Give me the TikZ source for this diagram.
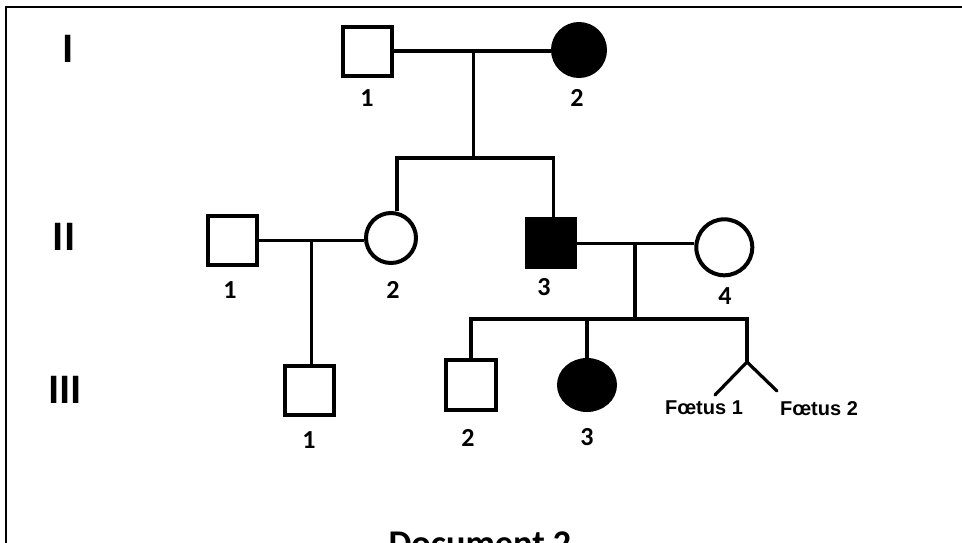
\documentclass[tikz,border=0pt]{standalone}
\usepackage{fontspec}
\setmainfont{Carlito}
\newfontfamily\arialfont{Liberation Sans}
\usetikzlibrary{shapes.geometric}
\tikzset{
  sqsym/.style={rectangle, draw, line width=4pt, minimum size=49pt, inner sep=0pt},
  circsym/.style={circle, draw, line width=4pt, inner sep=0pt},
  affected/.style={fill=black},
  con/.style={line width=3.2pt},
  lbl/.style={font=\fontsize{26}{28}\selectfont\bfseries, inner sep=0pt},
  gen/.style={font=\fontsize{42}{44}\selectfont\bfseries, inner sep=0pt},
  fet/.style={font=\arialfont\fontsize{20}{22}\selectfont\bfseries, inner sep=0pt},
}
\begin{document}
\begin{tikzpicture}[x=1pt,y=-1pt]
\useasboundingbox (0,0) rectangle (962,542);
\clip (0,0) rectangle (962,542);
\fill[white] (0,0) rectangle (962,542);
\draw[line width=2.5pt] (6,7) rectangle (1000,620);

% generation labels
\node[gen] (gI) at (68,48.5) {I};
\node[gen] (gII) at (64,236.5) {II};
\node[gen] (gIII) at (65,390) {III};

% generation I
\node[sqsym] (I1) at (367.5,51) {};
\node[circsym, affected, minimum size=52pt] (I2) at (579,50) {};
\node[lbl] (lI1) at (367,98.5) {1};
\node[lbl] (lI2) at (577,98) {2};

% generation II
\node[sqsym] (II1) at (232.7,240.5) {};
\node[circsym, minimum size=50pt] (II2) at (391,238) {};
\node[sqsym, affected, minimum size=48pt] (II3) at (550.5,242.5) {};
\node[circsym, minimum size=56pt] (II4) at (724.3,247.3) {};
\node[lbl] (lII1) at (230,290) {1};
\node[lbl] (lII2) at (393,290) {2};
\node[lbl] (lII3) at (544,287) {3};
\node[lbl] (lII4) at (725,296) {4};

% generation III
\node[sqsym] (III1) at (309,390.3) {};
\node[sqsym, minimum size=50pt] (III2) at (470.8,384.5) {};
\node[ellipse, draw, line width=4pt, inner sep=0pt, affected,
      minimum width=56pt, minimum height=50pt] (III3) at (587,385) {};
\node[lbl] (lIII1) at (309,440) {1};
\node[lbl] (lIII2) at (468,438) {2};
\node[lbl] (lIII3) at (587,437) {3};

% coordinates
\coordinate (m1) at (473.3,51);
\coordinate (s1) at (473.3,158);
\coordinate (s1l) at (397,158);
\coordinate (s1r) at (553.3,158);
\coordinate (m2) at (311.7,240.5);
\coordinate (m3) at (635,243.3);
\coordinate (s3) at (635,319);
\coordinate (s3l) at (471,319);
\coordinate (s3m) at (587,319);
\coordinate (s3r) at (747,319);
\coordinate (tw) at (747,362);
\coordinate (f1) at (715,395);
\coordinate (f2) at (777,391);

% connectors
\draw[con] (I1.east) -- (I1.east -| I2.west);
\draw[con] (m1) -- (s1);
\draw[con] (II2.north -| s1l) -- (s1l) -- (s1r) -- (II3.north -| s1r);
\draw[con] (II1.east) -- (II1.east -| II2.west);
\draw[con] (m2) -- (m2 |- III1.north);
\draw[con] (II3.east |- m3) -- (m3 -| II4.west);
\draw[con] (m3) -- (s3);
\draw[con] (s3l |- III2.north) -- (s3l) -- (s3r) -- (tw);
\draw[con] (s3m) -- (III3.north);
\draw[con, line cap=round] (f1) -- (tw) -- (f2);

% twin labels
\node[fet] (F1) at (704,407.5) {Fœtus 1};
\node[fet] (F2) at (819,408.5) {Fœtus 2};

% title (cut off at bottom, as in the reference)
\node[font=\fontsize{36.2}{40}\selectfont\bfseries, inner sep=0pt, anchor=base] (doc) at (480,555) {Document 2};
\end{tikzpicture}
\end{document}
